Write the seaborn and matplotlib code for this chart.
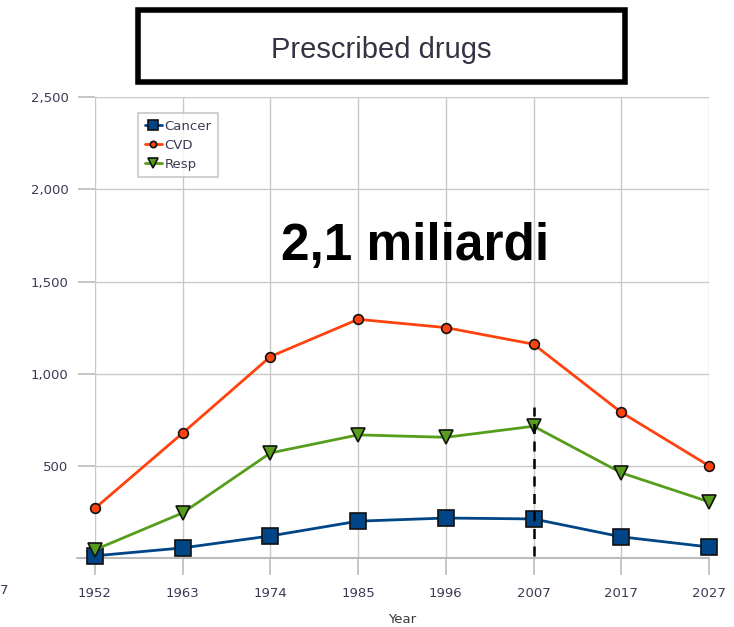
import matplotlib
matplotlib.use('Agg')
import matplotlib.pyplot as plt
from matplotlib.patches import Rectangle
import numpy as np
import pandas as pd
import seaborn as sns

years = ["1952", "1963", "1974", "1985", "1996", "2007", "2017", "2027"]
cancer = [12, 55, 120, 200, 217, 212, 115, 60]
cvd = [270, 678, 1093, 1295, 1250, 1160, 790, 500]
resp = [45, 245, 570, 668, 655, 715, 462, 305]
series_names = ["Cancer", "CVD", "Resp"]
yticks = [0, 500, 1000, 1500, 2000, 2500]
ytick_labels = ["", "500", "1,000", "1,500", "2,000", "2,500"]

rows = []
for name, vals in zip(series_names, [cancer, cvd, resp]):
    for i, v in enumerate(vals):
        rows.append({"idx": i, "value": v, "series": name})
df = pd.DataFrame(rows)

sns.set_theme(style="white")
plt.rcParams['font.family'] = ['DejaVu Sans']

fig = plt.figure(figsize=(7.34, 6.27), dpi=100)
ax = fig.add_axes([0.1294, 0.110, 0.8366, 0.735])

palette = {"Cancer": "#004586", "CVD": "#ff420e", "Resp": "#579d1c"}
markers = {"Cancer": "s", "CVD": "o", "Resp": "v"}
sizes = {"Cancer": 11, "CVD": 7, "Resp": 10}

for name in series_names:
    sub = df[df["series"] == name]
    sns.lineplot(data=sub, x="idx", y="value", color=palette[name], marker=markers[name],
                 markersize=sizes[name], markeredgecolor="#111111", markeredgewidth=1.2,
                 linewidth=2, label=name, ax=ax, clip_on=False, zorder=3)

ax.set_xlim(0, len(years) - 1)
ax.set_ylim(0, 2500)
ax.set_xticks(range(len(years)))
ax.set_xticklabels(years)
ax.set_yticks(yticks)
ax.set_yticklabels(ytick_labels)
ax.grid(True, color="#c8c8c8", linewidth=1)
ax.set_axisbelow(True)
for s in ax.spines.values():
    s.set_visible(False)
ax.axhline(0, color="#bbbbbb", linewidth=1.5, xmin=-0.03, clip_on=False, zorder=1)
ax.tick_params(axis="both", length=12, width=1.2, color="#bbbbbb", labelsize=9.5, labelcolor="#3a3a55")
ax.tick_params(axis="y", direction="out", left=True, pad=7)
ax.tick_params(axis="x", direction="out", bottom=True, pad=9)
ax.set_xlabel("Year", fontsize=9.5, color="#3a3a3a", labelpad=9)
ax.set_ylabel("")

# partly visible label at the left edge
fig.text(0.0, 1 - 590 / 627, "7", fontsize=9.5, color="#3a3a55", ha="left", va="center")

# dashed marker at 2007
ax.plot([5, 5], [10, 820], color="black", linestyle=(0, (4, 3)), linewidth=1.8, zorder=4)

ax.text(3.65, 1690, "2,1 miliardi", fontsize=37, fontweight="bold", color="black",
        ha="center", va="center", family=["Liberation Sans", "DejaVu Sans"])

leg = ax.legend(loc="upper left", bbox_to_anchor=(0.07, 0.965), borderaxespad=0, fontsize=9.5,
                frameon=True, fancybox=False, edgecolor="#bbbbbb", handlelength=1.3,
                handletextpad=0.2, borderpad=0.5, labelspacing=0.45, markerscale=0.65)
leg.get_frame().set_linewidth(1.2)
for t in leg.get_texts():
    t.set_color("#3a3a55")

# title box
fig.patches.append(Rectangle((138 / 734, 1 - 82 / 627), (625 - 138) / 734, (82 - 10) / 627,
                             transform=fig.transFigure, fill=False, edgecolor="black", linewidth=4))
fig.text(381 / 734, 1 - 50 / 627, "Prescribed drugs", fontsize=21, color="#333344",
         ha="center", va="center", family=["Liberation Sans Narrow", "Liberation Sans", "DejaVu Sans"])

fig.savefig("out.png", dpi=100)
